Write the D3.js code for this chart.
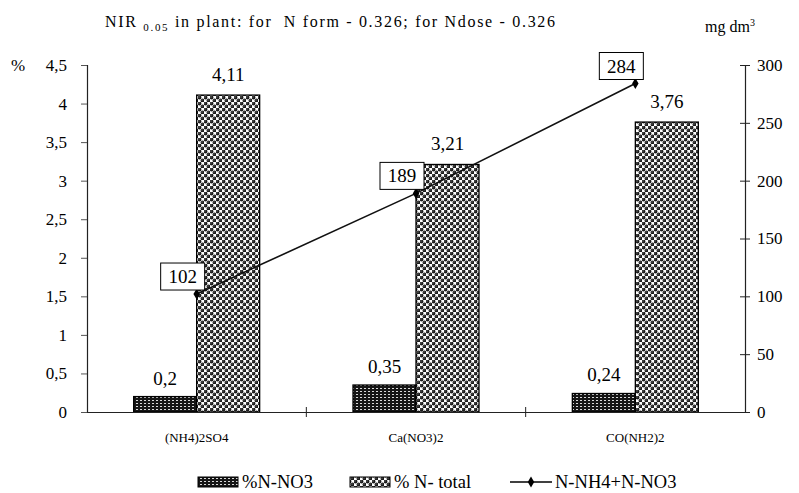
<!DOCTYPE html>
<html><head><meta charset="utf-8">
<script src="https://cdn.jsdelivr.net/npm/d3@7"></script>
<style>body{margin:0;background:#fff}</style>
</head><body><svg id="c" width="799" height="493"></svg>
<script>
const categories = ["(NH4)2SO4", "Ca(NO3)2", "CO(NH2)2"];
const no3Values = [0.2, 0.35, 0.24];
const totalValues = [4.11, 3.21, 3.76];
const lineValues = [102, 189, 284];
const no3Labels = ["0,2", "0,35", "0,24"];
const totalLabels = ["4,11", "3,21", "3,76"];
const leftTicks = [0, 0.5, 1, 1.5, 2, 2.5, 3, 3.5, 4, 4.5];
const leftTickLabels = ["0", "0,5", "1", "1,5", "2", "2,5", "3", "3,5", "4", "4,5"];
const rightTicks = [0, 50, 100, 150, 200, 250, 300];

const FONT = "Liberation Serif";
const svg = d3.select("#c");
const L = 87, R = 745, T = 65, B = 412;
const x = d3.scaleBand().domain(categories).range([L, R]).paddingInner(0).paddingOuter(0);
const yL = d3.scaleLinear().domain([0, 4.5]).range([B, T]);
const yR = d3.scaleLinear().domain([0, 300]).range([B, T]);

const defs = svg.append("defs");
const p1 = defs.append("pattern").attr("id", "pNO3").attr("patternUnits", "userSpaceOnUse").attr("width", 4).attr("height", 3);
p1.append("rect").attr("width", 4).attr("height", 3).attr("fill", "#151515");
p1.append("rect").attr("x", 0).attr("y", 1).attr("width", 2).attr("height", 1).attr("fill", "#d8d8d8");
const p2 = defs.append("pattern").attr("id", "pTot").attr("patternUnits", "userSpaceOnUse").attr("width", 6).attr("height", 6);
p2.append("rect").attr("width", 6).attr("height", 6).attr("fill", "#ffffff");
p2.append("circle").attr("cx", 1.5).attr("cy", 1.5).attr("r", 1.9).attr("fill", "#1a1a1a");
p2.append("circle").attr("cx", 4.5).attr("cy", 4.5).attr("r", 1.9).attr("fill", "#1a1a1a");
p2.append("rect").attr("x", 0.5).attr("y", 0.5).attr("width", 1).attr("height", 1).attr("fill", "#999");
p2.append("rect").attr("x", 3.5).attr("y", 3.5).attr("width", 1).attr("height", 1).attr("fill", "#999");

const bw = 63;
const g = svg.append("g");
g.selectAll(".b1").data(categories).join("rect")
  .attr("x", d => x(d) + x.bandwidth()/2 - bw)
  .attr("y", (d,i) => yL(no3Values[i]))
  .attr("width", bw).attr("height", (d,i) => B - yL(no3Values[i]))
  .attr("fill", "url(#pNO3)").attr("stroke", "#000").attr("stroke-width", 1.3);
g.selectAll(".b2").data(categories).join("rect")
  .attr("x", d => x(d) + x.bandwidth()/2)
  .attr("y", (d,i) => yL(totalValues[i]))
  .attr("width", bw).attr("height", (d,i) => B - yL(totalValues[i]))
  .attr("fill", "url(#pTot)").attr("stroke", "#000").attr("stroke-width", 1.3);

g.selectAll(".l1").data(categories).join("text")
  .attr("x", d => x(d) + x.bandwidth()/2 - bw/2)
  .attr("y", (d,i) => yL(no3Values[i]) - 12)
  .attr("text-anchor", "middle").attr("font-family", FONT).attr("font-size", 19).text((d,i) => no3Labels[i]);
g.selectAll(".l2").data(categories).join("text")
  .attr("x", d => x(d) + x.bandwidth()/2 + bw/2)
  .attr("y", (d,i) => yL(totalValues[i]) - 14)
  .attr("text-anchor", "middle").attr("font-family", FONT).attr("font-size", 19).text((d,i) => totalLabels[i]);

const axL = d3.axisLeft(yL).tickValues(leftTicks).tickFormat((d,i) => leftTickLabels[i]).tickSize(6).tickPadding(14);
const gl = svg.append("g").attr("transform", `translate(${L},0)`).call(axL);
gl.select(".domain").attr("stroke", "#222").attr("stroke-width", 1.2);
gl.selectAll(".tick line").attr("stroke", "#555");
gl.selectAll("text").style("font-family", FONT).attr("font-size", 17).attr("fill", "#000");

const axR = d3.axisRight(yR).tickValues(rightTicks).tickSize(5).tickPadding(7);
const gr = svg.append("g").attr("transform", `translate(${R},0)`).call(axR);
gr.select(".domain").attr("stroke", "#222").attr("stroke-width", 1.2);
gr.selectAll(".tick line").attr("x1", -5).attr("stroke", "#222");
gr.selectAll("text").style("font-family", FONT).attr("font-size", 17).attr("fill", "#000");

const axB = d3.axisBottom(x).tickSize(0).tickPadding(21);
const gb = svg.append("g").attr("transform", `translate(0,${B})`).call(axB);
gb.select(".domain").attr("stroke", "#222").attr("stroke-width", 1.2);
gb.selectAll("text").style("font-family", FONT).attr("font-size", 13).attr("fill", "#000");
svg.append("g").selectAll("line").data(categories.slice(1)).join("line")
  .attr("x1", d => x(d)).attr("x2", d => x(d)).attr("y1", B - 5).attr("y2", B + 5)
  .attr("stroke", "#222").attr("stroke-width", 1);

svg.append("text").attr("x", 11).attr("y", 71).attr("font-family", FONT).attr("font-size", 17).text("%");

const line = d3.line().x((d,i) => x(categories[i]) + x.bandwidth()/2).y(d => yR(d));
svg.append("path").datum(lineValues).attr("d", line).attr("fill", "none").attr("stroke", "#111").attr("stroke-width", 1.6);
svg.append("g").selectAll("path").data(lineValues).join("path")
  .attr("d", d3.symbol(d3.symbolDiamond, 36))
  .attr("transform", (d,i) => `translate(${x(categories[i]) + x.bandwidth()/2},${yR(d)})`)
  .attr("fill", "#000");
const lg = svg.append("g").selectAll("g").data(lineValues).join("g")
  .attr("transform", (d,i) => `translate(${x(categories[i]) + x.bandwidth()/2 - 14},${yR(d) - 18})`);
lg.append("rect").attr("x", -22).attr("y", -13).attr("width", 44).attr("height", 27).attr("fill", "#fff").attr("stroke", "#000").attr("stroke-width", 1);
lg.append("text").attr("text-anchor", "middle").attr("y", 7).attr("font-family", FONT).attr("font-size", 19).text(d => d);

const t = svg.append("text").attr("x", 105).attr("y", 27).attr("font-family", FONT).attr("font-size", 16)
  .attr("textLength", 450).attr("lengthAdjust", "spacing");
t.append("tspan").text("NIR ");
t.append("tspan").attr("font-size", 11).attr("dy", 4).text("0.05");
t.append("tspan").attr("dy", -4).text(" in plant: for\u00a0 N form - 0.326; for Ndose - 0.326");
const u = svg.append("text").attr("x", 705).attr("y", 32).attr("font-family", FONT).attr("font-size", 16);
u.append("tspan").text("mg dm");
u.append("tspan").attr("font-size", 10).attr("dy", -6).text("3");

const legItems = [
  {label: "%N-NO3", kind: "bar", fill: "url(#pNO3)", x: 198},
  {label: "% N- total", kind: "bar", fill: "url(#pTot)", x: 350},
  {label: "N-NH4+N-NO3", kind: "line", x: 510}
];
const leg = svg.append("g");
legItems.forEach(it => {
  if (it.kind === "bar") {
    leg.append("rect").attr("x", it.x).attr("y", 477).attr("width", 40).attr("height", 10).attr("fill", it.fill).attr("stroke", "#000");
    leg.append("text").attr("x", it.x + 44).attr("y", 488).attr("font-family", FONT).attr("font-size", 18.5).text(it.label);
  } else {
    leg.append("line").attr("x1", it.x).attr("x2", it.x + 42).attr("y1", 482).attr("y2", 482).attr("stroke", "#000").attr("stroke-width", 1.6);
    leg.append("path").attr("d", d3.symbol(d3.symbolDiamond, 36)).attr("transform", `translate(${it.x + 21},482)`).attr("fill", "#000");
    leg.append("text").attr("x", it.x + 45).attr("y", 488).attr("font-family", FONT).attr("font-size", 18.5).text(it.label);
  }
});
</script></body></html>
